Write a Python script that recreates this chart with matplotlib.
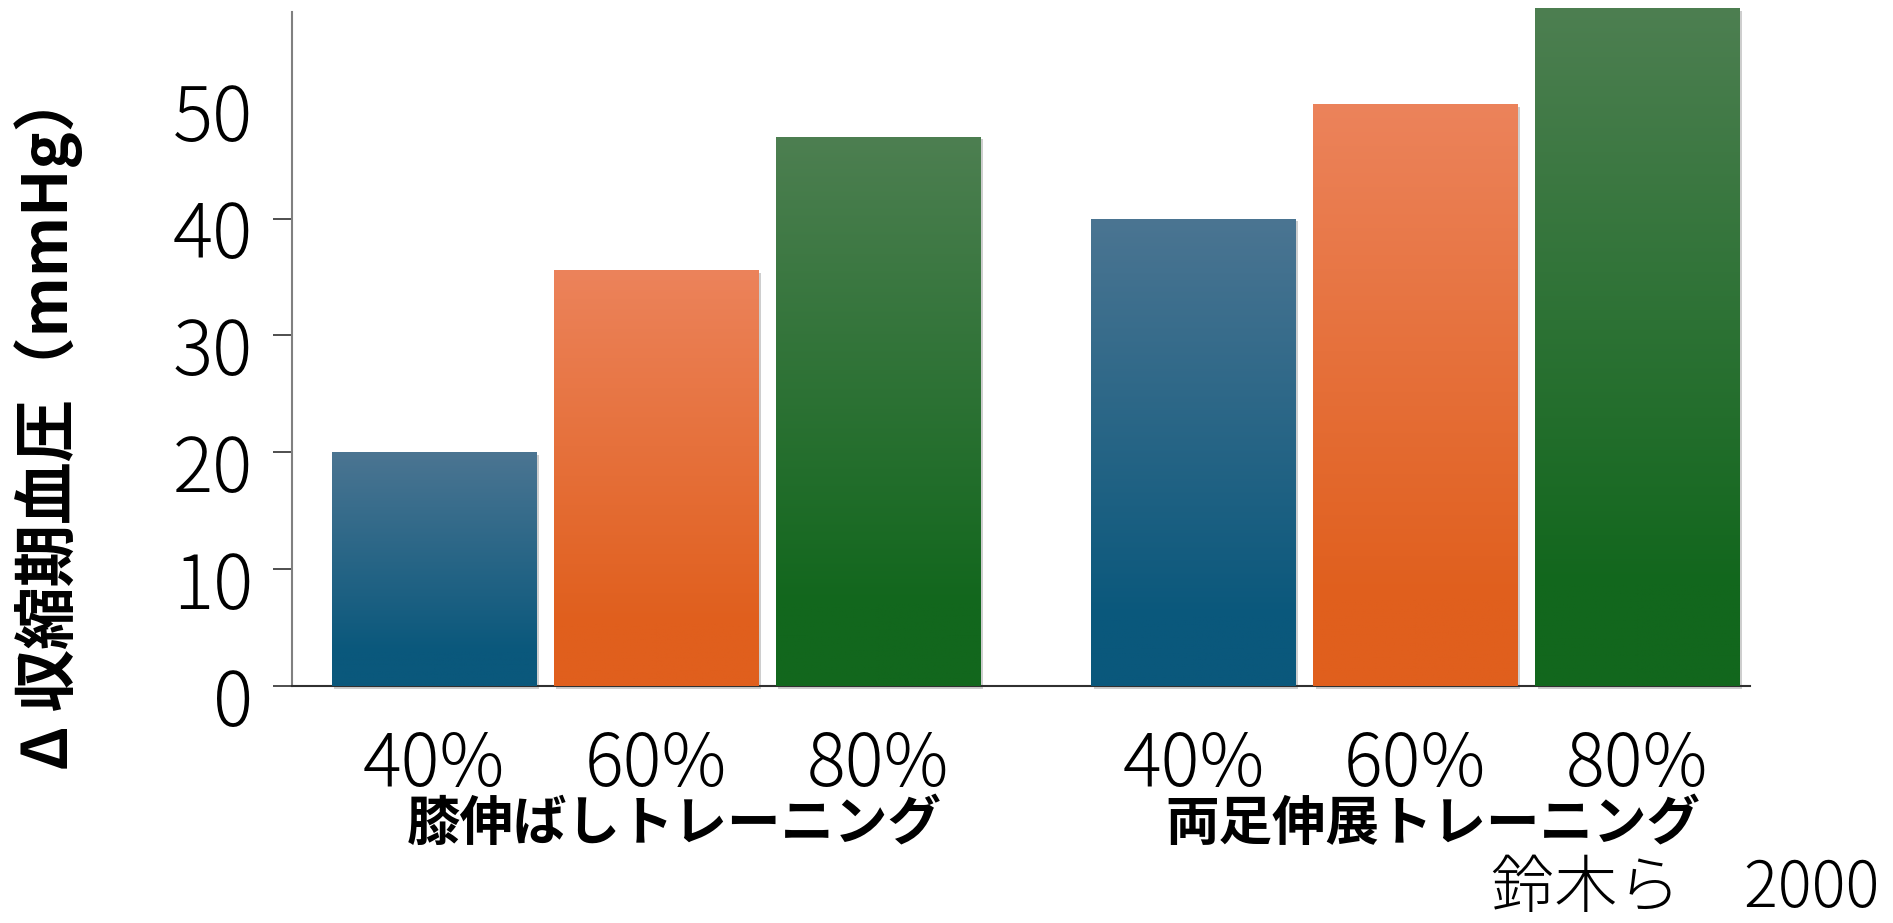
import numpy as np
import matplotlib
matplotlib.use("Agg")
import matplotlib.pyplot as plt
from matplotlib import patheffects
from matplotlib.colors import LinearSegmentedColormap
from matplotlib.transforms import ScaledTranslation, blended_transform_factory

plt.rcParams["font.family"] = ["Noto Sans CJK JP", "DejaVu Sans"]

# values
groups = ["膝伸ばしトレーニング", "両足伸展トレーニング"]
intensities = ["40%", "60%", "80%"]
knee_values = [20.0, 35.6, 47.0]
leg_values = [40.0, 49.8, 58.0]
yticks = [0, 10, 20, 30, 40, 50]
ylabel = "Δ 収縮期血圧（mmHg）"
source = "鈴木ら　2000"

# gradient colours per intensity (top, bottom)
top_colors = ["#4b7592", "#ec835b", "#4d7f51"]
bottom_colors = ["#0a587c", "#e05f1d", "#12671d"]

fig = plt.figure(figsize=(18.93, 9.23), dpi=100)
ax = fig.add_axes([0.1543, 0.2564, 0.7699, 0.7349])

group_gap = 3.42
width = 0.923
grad = np.linspace(0, 1, 256).reshape(-1, 1)

tick_pos = []
tick_lab = []
group_centers = []
for g, vals in enumerate([knee_values, leg_values]):
    xs = np.arange(len(vals)) + g * group_gap
    group_centers.append(xs.mean())
    for i, (x, v) in enumerate(zip(xs, vals)):
        bar = ax.bar(x, v, width=width, color=bottom_colors[i], zorder=2,
                     clip_on=False)[0]
        bar.set_path_effects([patheffects.SimplePatchShadow(offset=(2, -2), shadow_rgbFace="0.45", alpha=0.35),
                              patheffects.Normal()])
        cmap = LinearSegmentedColormap.from_list(
            "g%d" % i, [(0, bottom_colors[i]), (0.15, bottom_colors[i]), (1, top_colors[i])])
        im = ax.imshow(grad, cmap=cmap, origin="lower", aspect="auto", zorder=3,
                       extent=[bar.get_x(), bar.get_x() + bar.get_width(), 0, bar.get_height()])
        im.set_clip_path(bar)
        tick_pos.append(x)
        tick_lab.append(intensities[i])

ax.set_xlim(-0.64, 5.926)
ax.set_ylim(0, 58.0)

ax.spines["top"].set_visible(False)
ax.spines["right"].set_visible(False)
ax.spines["left"].set_bounds(0, 57.7)
ax.spines["left"].set_color("#808080")
ax.spines["left"].set_linewidth(1.5)
ax.spines["bottom"].set_color("#303030")
ax.spines["bottom"].set_linewidth(1.5)

ax.set_yticks(yticks)
ax.set_yticklabels([str(t) for t in yticks], fontsize=54, fontweight="light")
ax.tick_params(axis="y", length=14, width=1.2, color="#303030", pad=14)
ax.yaxis.get_major_ticks()[-1].tick1line.set_visible(False)
off = ScaledTranslation(0, -0.1, fig.dpi_scale_trans)
for lab in ax.get_yticklabels():
    lab.set_transform(lab.get_transform() + off)

ax.set_xticks(tick_pos)
ax.set_xticklabels(tick_lab, fontsize=52, fontweight="light")
ax.tick_params(axis="x", length=0, pad=30)

trans = blended_transform_factory(ax.transData, fig.transFigure)
for c, name in zip(group_centers, groups):
    ax.text(c + 0.08, 0.107, name, transform=trans, ha="center", va="center",
            fontsize=38.5, fontweight="bold")

fig.text(0.0256, 0.546, ylabel, rotation=90, ha="center", va="center",
         fontsize=45, fontweight="bold")
fig.text(0.993, 0.0, source, ha="right", va="bottom", fontsize=45.5,
         fontweight="light")

fig.savefig("out.png", dpi=100)
